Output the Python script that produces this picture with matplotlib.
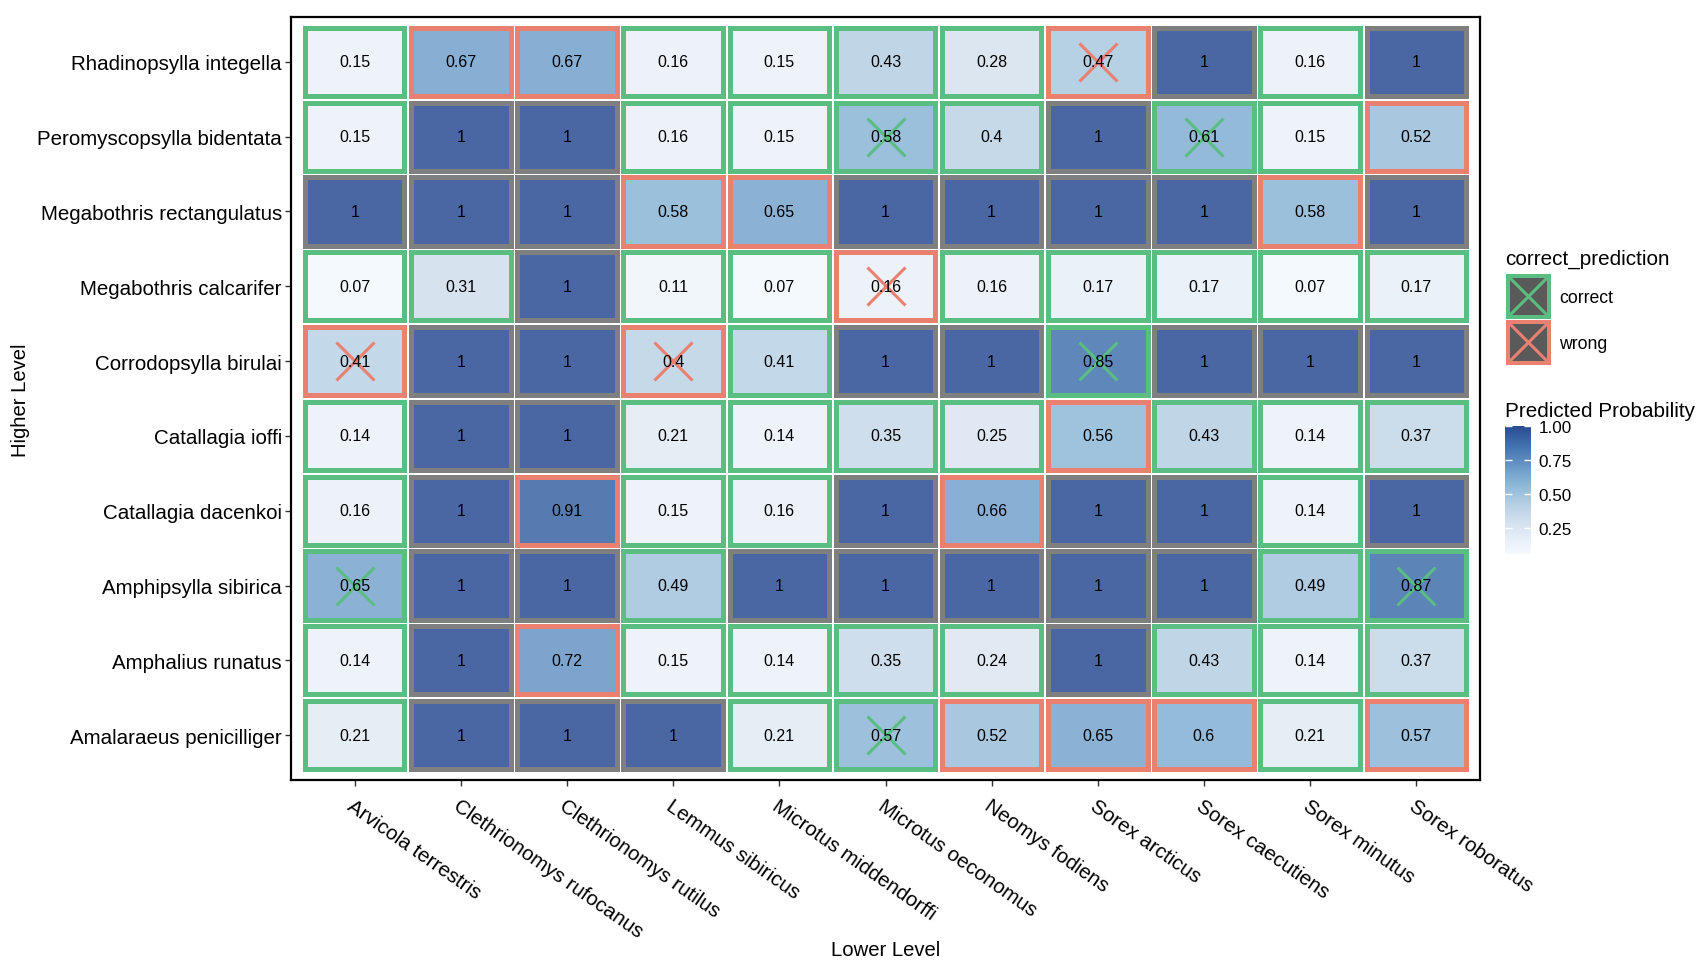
import matplotlib
matplotlib.use('Agg')
import matplotlib.pyplot as plt
from matplotlib.patches import Rectangle
from matplotlib.lines import Line2D
from matplotlib.colors import LinearSegmentedColormap, Normalize
from matplotlib.cm import ScalarMappable

plt.rcParams['font.family'] = ['Liberation Sans', 'DejaVu Sans']

# ---------------- data ----------------
higher = ["Rhadinopsylla integella", "Peromyscopsylla bidentata", "Megabothris rectangulatus",
          "Megabothris calcarifer", "Corrodopsylla birulai", "Catallagia ioffi",
          "Catallagia dacenkoi", "Amphipsylla sibirica", "Amphalius runatus",
          "Amalaraeus penicilliger"]
lower = ["Arvicola terrestris", "Clethrionomys rufocanus", "Clethrionomys rutilus",
         "Lemmus sibiricus", "Microtus middendorffi", "Microtus oeconomus", "Neomys fodiens",
         "Sorex arcticus", "Sorex caecutiens", "Sorex minutus", "Sorex roboratus"]

prob = [
    [0.15, 0.67, 0.67, 0.16, 0.15, 0.43, 0.28, 0.47, 1, 0.16, 1],
    [0.15, 1, 1, 0.16, 0.15, 0.58, 0.4, 1, 0.61, 0.15, 0.52],
    [1, 1, 1, 0.58, 0.65, 1, 1, 1, 1, 0.58, 1],
    [0.07, 0.31, 1, 0.11, 0.07, 0.16, 0.16, 0.17, 0.17, 0.07, 0.17],
    [0.41, 1, 1, 0.4, 0.41, 1, 1, 0.85, 1, 1, 1],
    [0.14, 1, 1, 0.21, 0.14, 0.35, 0.25, 0.56, 0.43, 0.14, 0.37],
    [0.16, 1, 0.91, 0.15, 0.16, 1, 0.66, 1, 1, 0.14, 1],
    [0.65, 1, 1, 0.49, 1, 1, 1, 1, 1, 0.49, 0.87],
    [0.14, 1, 0.72, 0.15, 0.14, 0.35, 0.24, 1, 0.43, 0.14, 0.37],
    [0.21, 1, 1, 1, 0.21, 0.57, 0.52, 0.65, 0.6, 0.21, 0.57],
]

# C = correct, W = wrong, N = no prediction (NA)
status = [
    "CWWCCCCWNCN",
    "CNNCCCCNCCW",
    "NNNWWNNNNWN",
    "CCNCCWCCCCC",
    "WNNWCNNCNNN",
    "CNNCCCCWCCC",
    "CNWCCNWNNCN",
    "CNNCNNNNNCC",
    "CNWCCCCNCCC",
    "CNNNCCWWWCW",
]

cross = [
    [0, 0, 0, 0, 0, 0, 0, 1, 0, 0, 0],
    [0, 0, 0, 0, 0, 1, 0, 0, 1, 0, 0],
    [0, 0, 0, 0, 0, 0, 0, 0, 0, 0, 0],
    [0, 0, 0, 0, 0, 1, 0, 0, 0, 0, 0],
    [1, 0, 0, 1, 0, 0, 0, 1, 0, 0, 0],
    [0, 0, 0, 0, 0, 0, 0, 0, 0, 0, 0],
    [0, 0, 0, 0, 0, 0, 0, 0, 0, 0, 0],
    [1, 0, 0, 0, 0, 0, 0, 0, 0, 0, 1],
    [0, 0, 0, 0, 0, 0, 0, 0, 0, 0, 0],
    [0, 0, 0, 0, 0, 1, 0, 0, 0, 0, 0],
]

legend_labels = ["correct", "wrong"]
cbar_ticks = [0.25, 0.50, 0.75, 1.00]

# ---------------- style ----------------
edge_colors = {"C": "#5ABD82", "W": "#EA8070", "N": "#7F7F7F"}
vmin, vmax = 0.06, 1.0
anchor_vals = [0.06, 0.15, 0.28, 0.43, 0.58, 0.67, 0.85, 1.0]
anchor_cols = [(244, 249, 253), (234, 241, 248), (214, 226, 239), (181, 207, 227),
               (137, 181, 214), (114, 161, 204), (67, 115, 174), (42, 76, 147)]
cmap = LinearSegmentedColormap.from_list(
    "pp", [((v - vmin) / (vmax - vmin), tuple(c / 255 for c in col))
           for v, col in zip(anchor_vals, anchor_cols)])
norm = Normalize(vmin=vmin, vmax=vmax)
tile_alpha = 0.85

W, H = 1704, 970
fig = plt.figure(figsize=(W / 100, H / 100), dpi=100)


def fx(px):
    return px / W


def fy(py):
    return 1 - py / H


L, R, T, B = 291, 1480, 18, 781
ax = fig.add_axes([fx(L), fy(B), (R - L) / W, (B - T) / H])
nx, ny = len(lower), len(higher)
ax.set_xlim(-0.6, nx - 0.4)
ax.set_ylim(ny - 0.4, -0.6)
ux = (R - L) / (nx + 0.2)
uy = (B - T) / (ny + 0.2)
lw_px = 5.0
inset = 0.8 + lw_px / 2
dx, dy = inset / ux, inset / uy

for i, row in enumerate(prob):
    for j, v in enumerate(row):
        r, g, b, _ = cmap(norm(v))
        ec = edge_colors[status[i][j]]
        ax.add_patch(Rectangle((j - 0.5 + dx, i - 0.5 + dy), 1 - 2 * dx, 1 - 2 * dy,
                               facecolor=(r, g, b, tile_alpha), edgecolor=ec,
                               lw=lw_px * 72 / 100, joinstyle='miter', zorder=2))
        if cross[i][j]:
            ax.plot([j], [i], marker='x', ms=28, mew=2.2, color=ec, zorder=2.5)
        ax.text(j, i, f"{v:g}", ha='center', va='center', fontsize=11.5,
                color='black', zorder=3)

ax.set_xticks(range(nx))
ax.set_xticklabels(lower, rotation=-35, ha='left', va='top',
                   rotation_mode='anchor', fontsize=14.8)
ax.set_yticks(range(ny))
ax.set_yticklabels(higher, fontsize=14.8)
ax.tick_params(axis='both', length=4, width=1, color='#333333', labelcolor='black')
ax.tick_params(axis='x', pad=7.2)
ax.tick_params(axis='y', pad=2.5)
for s in ax.spines.values():
    s.set_linewidth(1.6)
    s.set_color('black')
    s.set_zorder(5)

fig.text(fx(21), fy(400), "Higher Level", rotation=90, ha='center', va='center',
         fontsize=14.6)
fig.text(fx(885.5), fy(951), "Lower Level", ha='center', va='center', fontsize=14.6)

# ------------- legend: correct_prediction -------------
fig.text(fx(1505), fy(265), "correct_prediction", ha='left', va='baseline', fontsize=14.9)
key_tops = [275, 321]
key_status = ["C", "W"]
for top, st, lab in zip(key_tops, key_status, legend_labels):
    ec = edge_colors[st]
    x0, y0, s = 1506, top, 45
    fig.add_artist(Rectangle((fx(x0 + 2), fy(y0 + s - 2)), (s - 4) / W, (s - 4) / H,
                             transform=fig.transFigure, facecolor='#5A5A5A',
                             edgecolor=ec, lw=4 * 72 / 100, joinstyle='miter'))
    a, bb = x0 + 4, x0 + s - 4
    c, d = y0 + 4, y0 + s - 4
    fig.add_artist(Line2D([fx(a), fx(bb)], [fy(c), fy(d)], transform=fig.transFigure,
                          color=ec, lw=2.2))
    fig.add_artist(Line2D([fx(a), fx(bb)], [fy(d), fy(c)], transform=fig.transFigure,
                          color=ec, lw=2.2))
    fig.text(fx(1559), fy(top + s / 2 + 1), lab, ha='left', va='center', fontsize=12.7)

# ------------- colorbar -------------
fig.text(fx(1505), fy(417), "Predicted Probability", ha='left', va='baseline',
         fontsize=14.9)
cb_top, cb_bot = 427, 555
cax = fig.add_axes([fx(1505), fy(cb_bot), 26 / W, (cb_bot - cb_top) / H])
cb = fig.colorbar(ScalarMappable(norm=norm, cmap=cmap), cax=cax, ticks=cbar_ticks)
cb.outline.set_visible(False)
cax.set_yticklabels([f"{t:.2f}" for t in cbar_ticks])
cax.tick_params(axis='y', direction='in', color='white', length=5, width=1,
                left=True, right=True, labelleft=False, labelright=True,
                labelsize=12.3, labelcolor='black', pad=5.5)

fig.savefig('out.png', dpi=100)
